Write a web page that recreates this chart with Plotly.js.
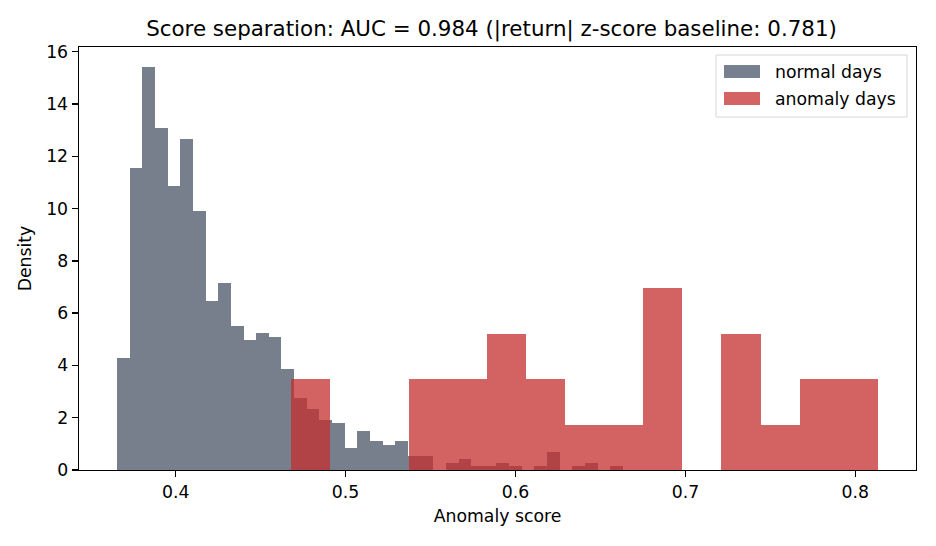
<!DOCTYPE html>
<html>
<head>
<meta charset="utf-8">
<script src="https://cdn.plot.ly/plotly-3.0.1.min.js"></script>
<style>
html,body{margin:0;padding:0;background:#fff;}
#chart{width:936px;height:546px;}
#chart .bars path{shape-rendering:crispEdges;}
</style>
</head>
<body>
<div id="chart"></div>
<script>
// Histogram bins (density)
const normalRange = [0.3655, 0.6632];   // first/last bin edge, 40 equal bins
const normalDensity = [4.27, 11.57, 15.42, 13.08, 10.88, 12.67, 9.91, 6.47, 7.16, 5.51,
                       4.96, 5.23, 5.09, 3.86, 2.75, 2.34, 1.93, 1.79, 0.83, 1.51,
                       1.10, 0.96, 1.10, 0.55, 0.55, 0.00, 0.28, 0.41, 0.14, 0.14,
                       0.28, 0.14, 0.00, 0.14, 0.69, 0.00, 0.14, 0.28, 0.00, 0.14];
const anomalyRange = [0.4680, 0.8133];  // first/last bin edge, 15 equal bins
const anomalyDensity = [3.48, 0.00, 0.00, 3.48, 3.48, 5.21, 3.48, 1.74, 1.74, 6.95,
                        0.00, 5.21, 1.74, 3.48, 3.48];
const seriesNames = ['normal days', 'anomaly days'];
const xTicks = [0.4, 0.5, 0.6, 0.7, 0.8];
const yTicks = [0, 2, 4, 6, 8, 10, 12, 14, 16];
const titleText = 'Score separation: AUC = 0.984 (|return| z-score baseline: 0.781)';

function binCenters(range, n) {
  const w = (range[1] - range[0]) / n;
  const c = [];
  for (let i = 0; i < n; i++) c.push(range[0] + (i + 0.5) * w);
  return {c: c, w: w};
}
const nb = binCenters(normalRange, normalDensity.length);
const ab = binCenters(anomalyRange, anomalyDensity.length);

const FONT = 'DejaVu Sans, sans-serif';
const FS = 17.3;
const colors = ['#4a5568', '#c53030'];

const traces = [
  {type: 'bar', x: nb.c, y: normalDensity, width: nb.w, name: seriesNames[0],
   marker: {color: colors[0], line: {width: 0}}, opacity: 0.75, showlegend: false, hoverinfo: 'x+y'},
  {type: 'bar', x: ab.c, y: anomalyDensity, width: ab.w, name: seriesNames[1],
   marker: {color: colors[1], line: {width: 0}}, opacity: 0.75, showlegend: false, hoverinfo: 'x+y'}
];

// plot area in px: left 79, right 916, top 47, bottom 470
const L = 79, R = 916, T = 47, B = 470;
const px2x = p => (p - L) / (R - L);
const px2y = p => (B - p) / (B - T);

const shapes = [
  {type: 'rect', xref: 'paper', yref: 'paper', x0: px2x(716), x1: px2x(907), y0: px2y(117), y1: px2y(55),
   line: {color: '#d6d6d6', width: 1}, fillcolor: 'rgba(255,255,255,0.8)', layer: 'above'},
  {type: 'rect', xref: 'paper', yref: 'paper', x0: px2x(724), x1: px2x(760), y0: px2y(78), y1: px2y(65),
   line: {width: 0}, fillcolor: colors[0], opacity: 0.75, layer: 'above'},
  {type: 'rect', xref: 'paper', yref: 'paper', x0: px2x(724), x1: px2x(760), y0: px2y(105), y1: px2y(92),
   line: {width: 0}, fillcolor: colors[1], opacity: 0.75, layer: 'above'}
];
const annotations = [
  {xref: 'paper', yref: 'paper', x: px2x(773), y: px2y(71.5), text: seriesNames[0], showarrow: false,
   xanchor: 'left', yanchor: 'middle', font: {family: FONT, size: FS, color: '#000'}},
  {xref: 'paper', yref: 'paper', x: px2x(773), y: px2y(98.5), text: seriesNames[1], showarrow: false,
   xanchor: 'left', yanchor: 'middle', font: {family: FONT, size: FS, color: '#000'}}
];

const layout = {
  width: 936, height: 546,
  margin: {l: L, r: 936 - R, t: T, b: 546 - B, pad: 0},
  paper_bgcolor: '#fff', plot_bgcolor: '#fff',
  barmode: 'overlay',
  showlegend: false,
  font: {family: FONT, size: FS, color: '#000'},
  title: {text: titleText, font: {family: FONT, size: 21.4, color: '#000'},
          xref: 'paper', x: px2x(491.5), xanchor: 'center', yref: 'container', y: 1 - 29 / 546, yanchor: 'middle'},
  xaxis: {range: [0.3431, 0.8357], tickvals: xTicks, ticktext: xTicks.map(v => v.toFixed(1)),
          ticks: 'outside', ticklen: 6, tickwidth: 1.4, tickcolor: '#000',
          showline: true, linecolor: '#000', linewidth: 1.4, mirror: true,
          showgrid: false, zeroline: false, tickfont: {family: FONT, size: FS, color: '#000'},
          title: {text: 'Anomaly score', font: {family: FONT, size: FS, color: '#000'}, standoff: 8}},
  yaxis: {range: [0, 16.18], tickvals: yTicks, ticktext: yTicks.map(String),
          ticks: 'outside', ticklen: 6, tickwidth: 1.4, tickcolor: '#000',
          showline: true, linecolor: '#000', linewidth: 1.4, mirror: true,
          showgrid: false, zeroline: false, tickfont: {family: FONT, size: FS, color: '#000'},
          title: {text: 'Density', font: {family: FONT, size: FS, color: '#000'}, standoff: 10}},
  shapes: shapes,
  annotations: annotations
};

Plotly.newPlot('chart', traces, layout, {displayModeBar: false, staticPlot: true});
</script>
</body>
</html>
